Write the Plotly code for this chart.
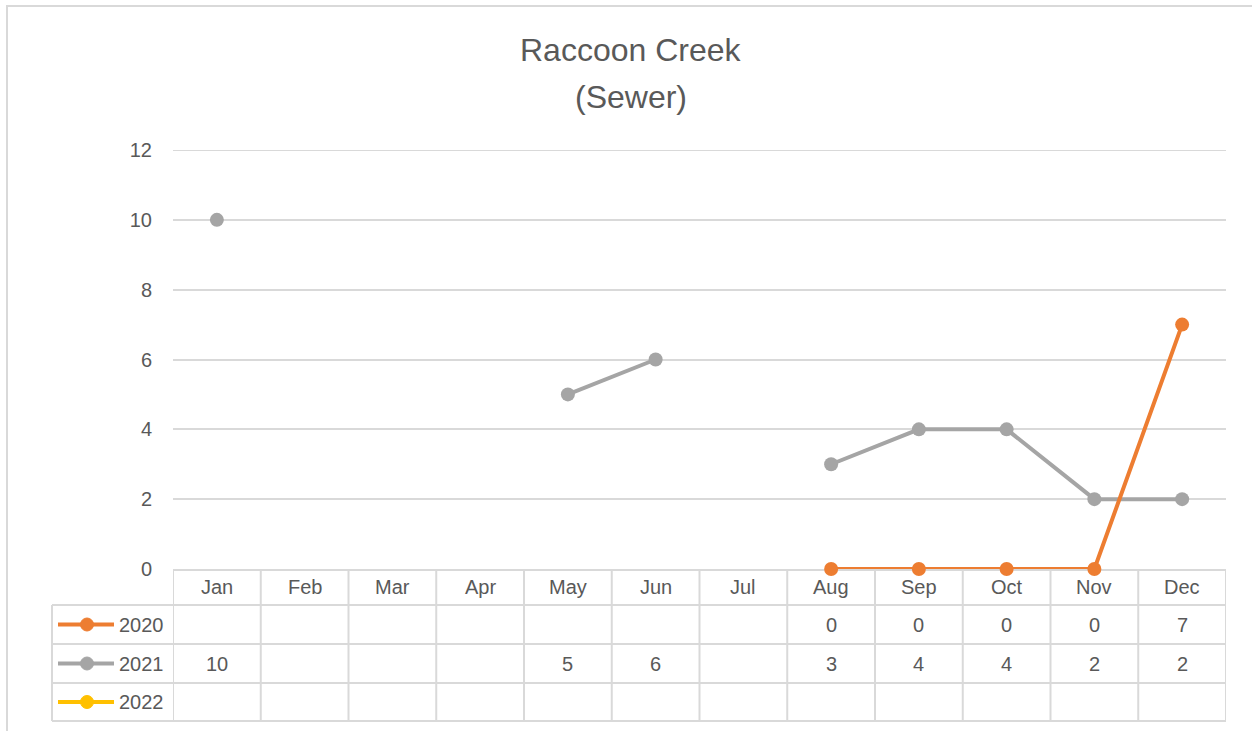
import plotly.graph_objects as go

# ---- data -------------------------------------------------------------
months = ["Jan", "Feb", "Mar", "Apr", "May", "Jun",
          "Jul", "Aug", "Sep", "Oct", "Nov", "Dec"]
values_2020 = [None, None, None, None, None, None, None, 0, 0, 0, 0, 7]
values_2021 = [10, None, None, None, 5, 6, None, 3, 4, 4, 2, 2]
values_2022 = [None] * 12
series_names = ["2020", "2021", "2022"]
series_colors = ["#ED7D31", "#A5A5A5", "#FFC000"]
y_ticks = [0, 2, 4, 6, 8, 10, 12]

# ---- layout geometry (pixels) -----------------------------------------
W, H = 1252, 731
PL, PR, PT, PB = 173, 1226, 150, 569          # plot area
TABLE_LEFT = 52
HEADER_BOTTOM = 605
ROW_LINES = [605, 644, 683, 721]
TEXT = "#595959"
GRID = "#D9D9D9"
FONT = "Liberation Sans"
FS = 20


def px(x):
    return (x - PL) / (PR - PL)


def py(y):
    return (PB - y) / (PB - PT)


fig = go.Figure()

all_series = [values_2020, values_2021, values_2022]
draw_order = [2, 1, 0]
for i in draw_order:
    fig.add_trace(go.Scatter(
        x=months, y=all_series[i], name=series_names[i],
        mode="lines+markers", connectgaps=False, cliponaxis=False,
        line=dict(color=series_colors[i], width=4),
        marker=dict(color=series_colors[i], size=14),
        showlegend=False,
    ))

shapes = []
annotations = []


def label(x, y, text, xref="paper", size=FS, xanchor="center"):
    annotations.append(dict(x=x, y=y, xref=xref, yref="paper", text=text,
                            showarrow=False, xanchor=xanchor, yanchor="middle",
                            font=dict(family=FONT, size=size, color=TEXT)))


# outer chart border
shapes.append(dict(type="rect", xref="paper", yref="paper",
                   x0=px(7), x1=px(W + 20), y0=py(6), y1=py(H + 20),
                   line=dict(color=GRID, width=2), layer="below"))

# top gridline at the axis maximum
shapes.append(dict(type="line", xref="paper", yref="y",
                   x0=0, x1=1, y0=y_ticks[-1], y1=y_ticks[-1],
                   line=dict(color=GRID, width=2), layer="below"))

# data table: horizontal rules
shapes.append(dict(type="line", xref="paper", yref="paper",
                   x0=px(PL), x1=px(PR), y0=py(570), y1=py(570),
                   line=dict(color=GRID, width=2), layer="below"))
for yl in ROW_LINES:
    shapes.append(dict(type="line", xref="paper", yref="paper",
                       x0=px(TABLE_LEFT), x1=px(PR), y0=py(yl), y1=py(yl),
                       line=dict(color=GRID, width=2)))
# data table: vertical rules between months
for k in range(13):
    shapes.append(dict(type="line", xref="x", yref="paper",
                       x0=k - 0.5, x1=k - 0.5, y0=py(570), y1=py(ROW_LINES[-1]),
                       line=dict(color=GRID, width=2)))
shapes.append(dict(type="line", xref="paper", yref="paper",
                   x0=px(TABLE_LEFT), x1=px(TABLE_LEFT),
                   y0=py(HEADER_BOTTOM), y1=py(ROW_LINES[-1]),
                   line=dict(color=GRID, width=2)))

# month header labels
for m in months:
    label(m, py(587), m, xref="x")

# series rows: legend keys and values
for r, (name, color, vals) in enumerate(zip(series_names, series_colors, all_series)):
    cy = (ROW_LINES[r] + ROW_LINES[r + 1]) / 2
    shapes.append(dict(type="line", xref="paper", yref="paper",
                       x0=px(58), x1=px(114), y0=py(cy), y1=py(cy),
                       line=dict(color=color, width=4)))
    shapes.append(dict(type="circle", xref="paper", yref="paper",
                       x0=px(87 - 6.5), x1=px(87 + 6.5),
                       y0=py(cy + 6.5), y1=py(cy - 6.5),
                       fillcolor=color, line=dict(color=color, width=1)))
    label(px(117), py(cy), name, xanchor="left")
    for m, v in zip(months, vals):
        if v is not None:
            label(m, py(cy), str(v), xref="x")

# title
label(px(631), py(50), "Raccoon Creek", size=32)
label(px(631), py(97), "(Sewer)", size=32)

fig.update_layout(
    width=W, height=H,
    margin=dict(l=PL, r=W - PR, t=PT, b=H - PB, pad=0),
    paper_bgcolor="white", plot_bgcolor="white",
    shapes=shapes, annotations=annotations,
    xaxis=dict(type="category", range=[-0.5, 11.5], showticklabels=False,
               showgrid=False, zeroline=False, showline=False, ticks=""),
    yaxis=dict(range=[0, 12], tickvals=y_ticks, showgrid=True,
               gridcolor=GRID, gridwidth=2, zeroline=False, showline=False,
               ticks="", ticklabelstandoff=20,
               tickfont=dict(family=FONT, size=FS, color=TEXT)),
)

fig.write_html("out.html")
